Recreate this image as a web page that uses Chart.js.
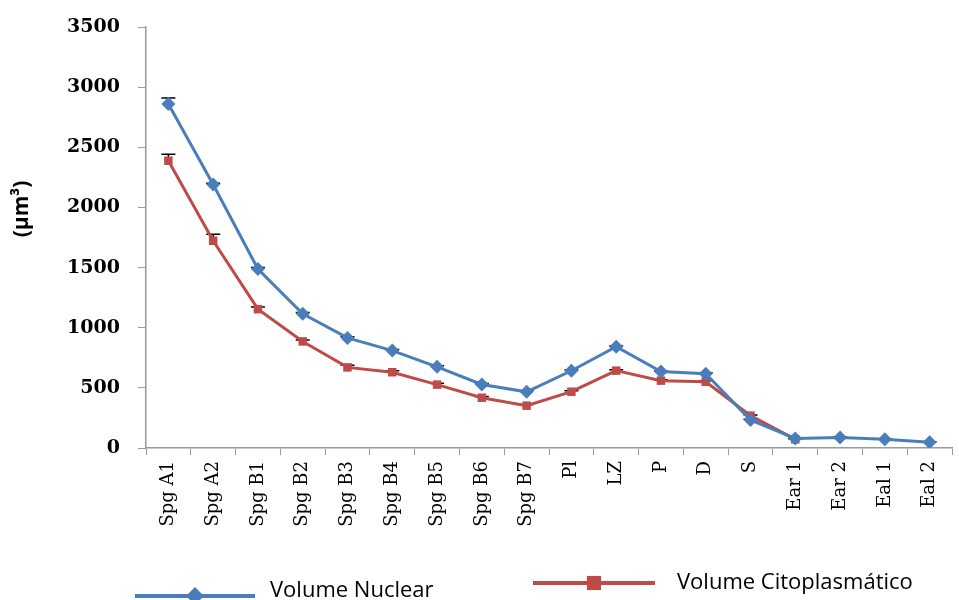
<!DOCTYPE html>
<html>
<head>
<meta charset="utf-8">
<script src="https://cdn.jsdelivr.net/npm/chart.js@4"></script>
<style>
  html, body { margin: 0; padding: 0; background: #fff; }
  #wrap { width: 959px; height: 600px; position: relative; }
</style>
</head>
<body>
<div id="wrap"><canvas id="chart"></canvas></div>
<script>
const categories = ['Spg A1', 'Spg A2', 'Spg B1', 'Spg B2', 'Spg B3', 'Spg B4', 'Spg B5', 'Spg B6', 'Spg B7',
  'Pl', 'LZ', 'P', 'D', 'S', 'Ear 1', 'Ear 2', 'Eal 1', 'Eal 2'];
const nuclear = [2860, 2190, 1488, 1116, 915, 810, 675, 528, 467, 642, 842, 635, 618, 233, 80, 88, 72, 47];
const nuclearErr = [50, 12, 12, 10, 10, 8, 8, 8, 8, 6, 6, 6, 6, 6, 5, 5, 5, 5];
const cyto = [2388, 1723, 1154, 886, 670, 630, 527, 418, 352, 468, 643, 560, 551, 269, 72, null, null, null];
const cytoErr = [55, 55, 18, 12, 18, 12, 12, 10, 10, 8, 8, 8, 8, 6, 5, null, null, null];
const yTicks = [0, 500, 1000, 1500, 2000, 2500, 3000, 3500];

const BLUE = '#4a7ebb';
const RED = '#be4b48';

// small positive error caps, drawn under the markers through the scales
const errorBars = {
  id: 'errorBars',
  beforeDatasetsDraw(chart) {
    const ctx = chart.ctx;
    const y = chart.scales.y;
    chart.data.datasets.forEach((ds, i) => {
      const meta = chart.getDatasetMeta(i);
      meta.data.forEach((pt, j) => {
        const v = ds.data[j];
        const e = ds.errors[j];
        if (v == null || e == null) return;
        const top = y.getPixelForValue(v + e);
        ctx.save();
        ctx.strokeStyle = '#000';
        ctx.lineWidth = 1.5;
        ctx.beginPath();
        ctx.moveTo(pt.x, pt.y);
        ctx.lineTo(pt.x, top);
        ctx.moveTo(pt.x - 7, top);
        ctx.lineTo(pt.x + 7, top);
        ctx.stroke();
        ctx.restore();
      });
    });
  }
};

// y title and the legend at the bottom
const extras = {
  id: 'extras',
  afterDraw(chart) {
    const ctx = chart.ctx;
    ctx.save();
    ctx.fillStyle = '#000';
    ctx.font = 'bold 21px "Open Sans", sans-serif';
    ctx.translate(22, 209);
    ctx.rotate(-Math.PI / 2);
    ctx.textAlign = 'center';
    ctx.textBaseline = 'middle';
    ctx.fillText('(µm³)', 0, 0);
    ctx.restore();

    const items = [
      { ds: chart.data.datasets[0], x0: 135, x1: 255, y: 596, r: 9, tx: 270, ty: 591 },
      { ds: chart.data.datasets[1], x0: 533, x1: 655, y: 583, r: 10, tx: 677, ty: 583 }
    ];
    items.forEach((it) => {
      ctx.save();
      ctx.strokeStyle = it.ds.borderColor;
      ctx.fillStyle = it.ds.borderColor;
      ctx.lineWidth = 4;
      ctx.beginPath();
      ctx.moveTo(it.x0, it.y);
      ctx.lineTo(it.x1, it.y);
      ctx.stroke();
      Chart.helpers.drawPoint(ctx, {
        pointStyle: it.ds.pointStyle,
        radius: it.r,
        borderWidth: 0
      }, (it.x0 + it.x1) / 2, it.y);
      ctx.restore();
      ctx.save();
      ctx.fillStyle = '#000';
      ctx.font = '22px "Open Sans", sans-serif';
      ctx.textBaseline = 'middle';
      ctx.fillText(it.ds.label, it.tx, it.ty);
      ctx.restore();
    });
  }
};

new Chart(document.getElementById('chart'), {
  type: 'line',
  data: {
    labels: categories,
    datasets: [
      {
        label: 'Volume Nuclear',
        data: nuclear,
        errors: nuclearErr,
        borderColor: BLUE,
        backgroundColor: BLUE,
        borderWidth: 3,
        pointStyle: 'rectRot',
        pointRadius: 7,
        pointBorderWidth: 0,
        tension: 0
      },
      {
        label: 'Volume Citoplasmático',
        data: cyto,
        errors: cytoErr,
        borderColor: RED,
        backgroundColor: RED,
        borderWidth: 3,
        pointStyle: 'rect',
        pointRadius: 6,
        pointBorderWidth: 0,
        tension: 0
      }
    ]
  },
  options: {
    responsive: true,
    maintainAspectRatio: false,
    animation: false,
    layout: { padding: { top: 27, right: 0, bottom: 0, left: 0 } },
    plugins: {
      legend: { display: false },
      tooltip: { enabled: false }
    },
    scales: {
      x: {
        offset: true,
        grid: {
          offset: true,
          drawOnChartArea: false,
          color: '#9a9a9a',
          tickLength: 7,
          tickColor: '#9a9a9a'
        },
        border: { color: '#9a9a9a', width: 1.5 },
        ticks: {
          minRotation: 90,
          maxRotation: 90,
          autoSkip: false,
          padding: 6,
          color: '#000',
          font: { family: '"DejaVu Serif", serif', size: 18 }
        },
        afterFit(scale) { scale.height = 152; }
      },
      y: {
        min: 0,
        max: 3500,
        afterBuildTicks(scale) { scale.ticks = yTicks.map((v) => ({ value: v })); },
        grid: {
          drawOnChartArea: false,
          color: '#9a9a9a',
          tickLength: 8,
          tickColor: '#9a9a9a'
        },
        border: { color: '#9a9a9a', width: 1.5 },
        ticks: {
          padding: 18,
          color: '#000',
          font: { family: '"DejaVu Serif", serif', size: 19, weight: 'bold' },
          callback: (v) => String(v)
        },
        afterFit(scale) {
          scale.width = 146;
          scale.paddingTop = 0;
          scale.paddingBottom = 0;
        }
      }
    }
  },
  plugins: [errorBars, extras]
});
</script>
</body>
</html>
